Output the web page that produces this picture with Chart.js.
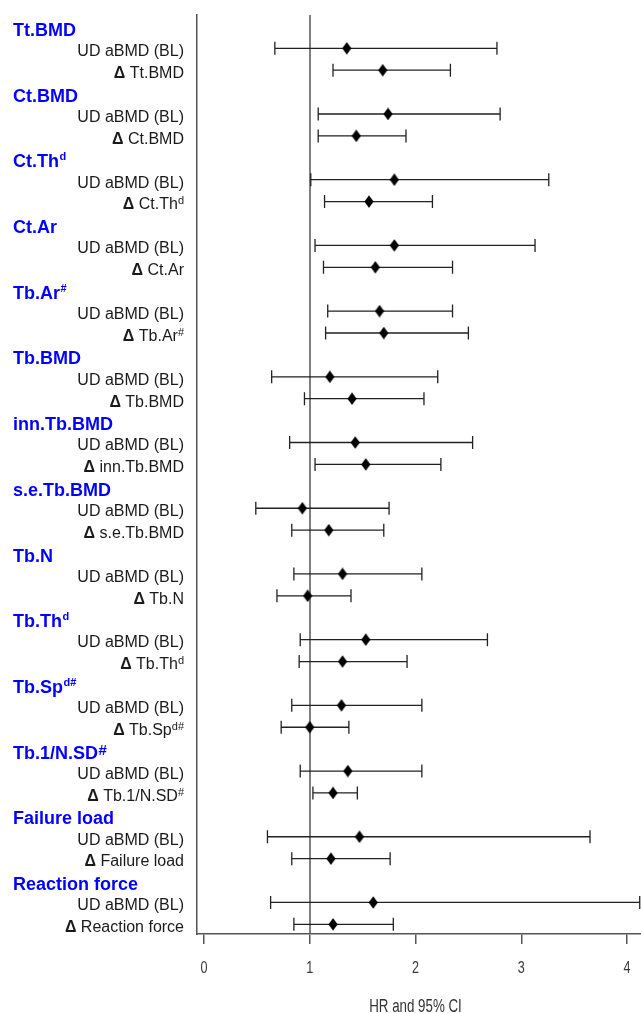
<!DOCTYPE html>
<html>
<head>
<meta charset="utf-8">
<script src="https://cdn.jsdelivr.net/npm/chart.js@4/dist/chart.umd.min.js"></script>
<style>
  html, body { margin: 0; padding: 0; background: #ffffff; }
  #wrap { width: 641px; height: 1013px; position: relative; }
</style>
</head>
<body>
<div id="wrap"><canvas id="c" width="641" height="1013"></canvas></div>
<script>
// ---- data ----
const groupLabels = ['Tt.BMD', 'Ct.BMD', 'Ct.Th^d', 'Ct.Ar', 'Tb.Ar^#', 'Tb.BMD', 'inn.Tb.BMD',
  's.e.Tb.BMD', 'Tb.N', 'Tb.Th^d', 'Tb.Sp^d#', 'Tb.1/N.SD^^#', 'Failure load', 'Reaction force'];
const udLabel = 'UD aBMD (BL)';
const deltaLabels = ['Δ Tt.BMD', 'Δ Ct.BMD', 'Δ Ct.Th^d', 'Δ Ct.Ar', 'Δ Tb.Ar^#', 'Δ Tb.BMD',
  'Δ inn.Tb.BMD', 'Δ s.e.Tb.BMD', 'Δ Tb.N', 'Δ Tb.Th^d', 'Δ Tb.Sp^d#', 'Δ Tb.1/N.SD^#',
  'Δ Failure load', 'Δ Reaction force'];
const udHR = [1.35, 1.74, 1.80, 1.80, 1.66, 1.19, 1.43, 0.93, 1.31, 1.53, 1.30, 1.36, 1.47, 1.60];
const udLo = [0.67, 1.08, 1.01, 1.05, 1.17, 0.64, 0.81, 0.49, 0.85, 0.91, 0.83, 0.91, 0.60, 0.63];
const udHi = [2.77, 2.80, 3.26, 3.13, 2.35, 2.21, 2.54, 1.75, 2.06, 2.68, 2.06, 2.06, 3.65, 4.12];
const dHR  = [1.69, 1.44, 1.56, 1.62, 1.70, 1.40, 1.53, 1.18, 0.98, 1.31, 1.00, 1.22, 1.20, 1.22];
const dLo  = [1.22, 1.08, 1.14, 1.13, 1.15, 0.95, 1.05, 0.83, 0.69, 0.90, 0.73, 1.03, 0.83, 0.85];
const dHi  = [2.33, 1.91, 2.16, 2.35, 2.50, 2.08, 2.24, 1.70, 1.39, 1.92, 1.37, 1.45, 1.76, 1.79];
const xTicks = [0, 1, 2, 3, 4];
const refValue = 1;
const xTitle = 'HR and 95% CI';

// ---- rows: header, UD, delta per group ----
const rows = [];
groupLabels.forEach((g, i) => {
  rows.push({ label: g, header: true });
  rows.push({ label: udLabel, hr: udHR[i], lo: udLo[i], hi: udHi[i] });
  rows.push({ label: deltaLabels[i], hr: dHR[i], lo: dLo[i], hi: dHi[i] });
});
const points = [];
const bars = [];
rows.forEach((r, idx) => {
  if (!r.header) {
    points.push({ x: r.hr, y: idx });
    bars.push({ y: idx, lo: r.lo, hi: r.hi });
  }
});

// diamond marker
const dm = document.createElement('canvas');
dm.width = 10; dm.height = 13;
(function () {
  const c = dm.getContext('2d');
  c.fillStyle = '#000';
  c.beginPath();
  c.moveTo(5, 0.3); c.lineTo(9.6, 6.5); c.lineTo(5, 12.7); c.lineTo(0.4, 6.5);
  c.closePath(); c.fill();
})();

const SANS = "'Liberation Sans', Arial, sans-serif";

function segments(text) {
  const segs = [];
  let t = text;
  if (t.startsWith('Δ')) { segs.push({ t: 'Δ', kind: 'delta' }); t = t.slice(1); }
  const big = t.indexOf('^^');
  const k = t.indexOf('^');
  if (big >= 0) {
    segs.push({ t: t.slice(0, big), kind: 'main' });
    segs.push({ t: t.slice(big + 2), kind: 'supBig' });
  } else if (k >= 0) {
    segs.push({ t: t.slice(0, k), kind: 'main' });
    segs.push({ t: t.slice(k + 1), kind: 'sup' });
  } else segs.push({ t: t, kind: 'main' });
  return segs;
}

function narrowText(ctx, text, x, y, size, color) {
  ctx.save();
  ctx.font = size + 'px ' + SANS;
  ctx.fillStyle = color;
  ctx.textAlign = 'center';
  ctx.textBaseline = 'alphabetic';
  ctx.translate(x, y);
  ctx.scale(0.74, 1);
  ctx.fillText(text, 0, 0);
  ctx.restore();
}

const forestPlugin = {
  id: 'forest',
  beforeDatasetsDraw(chart) {
    const { ctx, chartArea, scales } = chart;
    const xs = scales.x, ys = scales.y;
    ctx.save();
    const rx = Math.round(xs.getPixelForValue(refValue));
    ctx.strokeStyle = '#555';
    ctx.lineWidth = 1.5;
    ctx.beginPath();
    ctx.moveTo(rx, chartArea.top);
    ctx.lineTo(rx, chartArea.bottom);
    ctx.stroke();
    ctx.strokeStyle = '#222';
    ctx.lineWidth = 1.3;
    bars.forEach(b => {
      const y = ys.getPixelForValue(b.y);
      const x1 = xs.getPixelForValue(b.lo), x2 = xs.getPixelForValue(b.hi);
      ctx.beginPath();
      ctx.moveTo(x1, y); ctx.lineTo(x2, y);
      ctx.moveTo(x1, y - 6.5); ctx.lineTo(x1, y + 6.5);
      ctx.moveTo(x2, y - 6.5); ctx.lineTo(x2, y + 6.5);
      ctx.stroke();
    });
    ctx.restore();
  },
  afterDraw(chart) {
    const { ctx, scales, chartArea } = chart;
    const xs = scales.x, ys = scales.y;
    // x tick labels and title
    xs.ticks.forEach(t => {
      narrowText(ctx, String(t.value), xs.getPixelForValue(t.value), chartArea.bottom + 39, 17, '#3a3a3a');
    });
    narrowText(ctx, xTitle, (xs.getPixelForValue(xTicks[0]) + xs.getPixelForValue(xTicks[xTicks.length - 1])) / 2,
      chartArea.bottom + 78, 18, '#333');
    // row labels
    ctx.save();
    ctx.textBaseline = 'alphabetic';
    ctx.textAlign = 'left';
    rows.forEach((r, idx) => {
      const yc = ys.getPixelForValue(idx);
      const segs = segments(r.label);
      if (r.header) {
        const fonts = { main: 'bold 18px ' + SANS, sup: 'bold 11px ' + SANS, supBig: 'bold 15px ' + SANS };
        const rise = { main: 0, sup: 7, supBig: 4 };
        let x = 13;
        const y = yc + 9.5;
        ctx.fillStyle = '#0000ff';
        segs.forEach(s => {
          ctx.font = fonts[s.kind];
          ctx.fillText(s.t, x, y - rise[s.kind]);
          x += ctx.measureText(s.t).width + (s.kind === 'main' ? 0.5 : 0);
        });
      } else {
        const fonts = { delta: 'bold 16px ' + SANS, main: '16px ' + SANS, sup: '11px ' + SANS, supBig: '11px ' + SANS };
        const rise = { delta: 0, main: 0, sup: 5, supBig: 5 };
        const y = yc + 7.8;
        let total = 0;
        segs.forEach(s => { ctx.font = fonts[s.kind]; total += ctx.measureText(s.t).width; });
        let x = 184 - total;
        ctx.fillStyle = '#1a1a1a';
        segs.forEach(s => {
          ctx.font = fonts[s.kind];
          ctx.fillText(s.t, x, y - rise[s.kind]);
          x += ctx.measureText(s.t).width;
        });
      }
    });
    ctx.restore();
  }
};

new Chart(document.getElementById('c'), {
  type: 'scatter',
  data: {
    datasets: [{
      data: points,
      pointStyle: dm,
      pointRadius: 6,
      pointHoverRadius: 6,
      backgroundColor: '#000',
      borderColor: '#000',
      clip: false
    }]
  },
  options: {
    responsive: false,
    animation: false,
    events: [],
    layout: { autoPadding: false, padding: { left: 197, top: 15, right: 0, bottom: 69 } },
    plugins: { legend: { display: false }, tooltip: { enabled: false } },
    scales: {
      x: {
        type: 'linear',
        min: -0.066,
        max: 4.132,
        afterBuildTicks: s => { s.ticks = xTicks.map(v => ({ value: v })); },
        grid: { drawOnChartArea: false, drawTicks: true, tickLength: 10, color: '#555', lineWidth: 1.5 },
        border: { display: true, color: '#555', width: 1.5 },
        ticks: { display: false },
        title: { display: false },
        afterFit: s => { s.paddingLeft = 0; s.paddingRight = 0; }
      },
      y: {
        type: 'linear',
        reverse: true,
        min: -0.52,
        max: 41.44,
        grid: { display: false },
        ticks: { display: false },
        border: { display: true, color: '#555', width: 1.5 },
        afterFit: s => { s.width = 0; s.paddingTop = 0; s.paddingBottom = 0; }
      }
    }
  },
  plugins: [forestPlugin]
});
</script>
</body>
</html>
